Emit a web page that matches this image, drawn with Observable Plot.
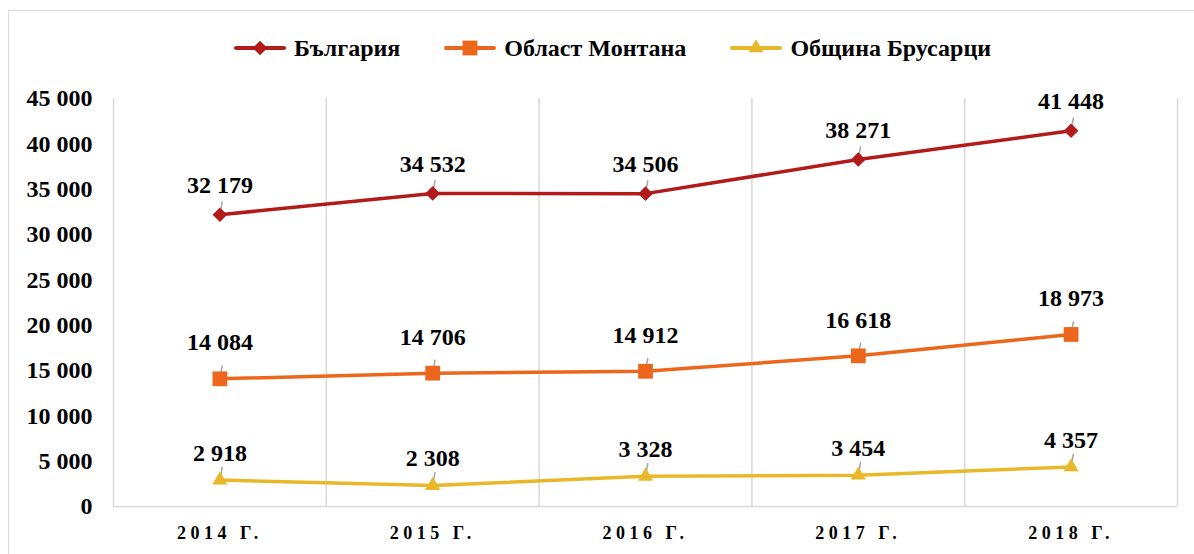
<!DOCTYPE html>
<html>
<head>
<meta charset="utf-8">
<script src="https://cdn.jsdelivr.net/npm/d3@7"></script>
<script src="https://cdn.jsdelivr.net/npm/@observablehq/plot@0.6"></script>
<style>
  html, body { margin: 0; padding: 0; background: #fff; overflow: hidden; }
  #wrap { position: relative; width: 1194px; height: 554px; overflow: hidden; font-family: "Liberation Serif", "Times New Roman", "DejaVu Serif", serif; }
  #frame { position: absolute; left: 8px; top: 10px; width: 1200px; height: 600px; border: 1.5px solid #D9D9D9; box-sizing: border-box; pointer-events: none; }
  #legend { position: absolute; left: 0; top: 0; width: 1194px; height: 96px; display: flex; justify-content: center; align-items: center; gap: 44px; padding-left: 31px; box-sizing: border-box; }
  .item { display: flex; align-items: center; font-weight: bold; font-size: 24px; color: #000; font-family: "Liberation Serif", "Times New Roman", serif; }
  .item svg { margin-right: 8px; }
  #chart { position: absolute; left: 0; top: 78px; }
  #chart svg text { font-family: "Liberation Serif", "Times New Roman", serif !important; font-weight: bold; }
  #chart svg .xax text { letter-spacing: 4.5px; }
</style>
</head>
<body>
<div id="wrap">
  <div id="frame"></div>
  <div id="legend"></div>
  <div id="chart"></div>
</div>
<script>
const years = [2014, 2015, 2016, 2017, 2018];
const seriesNames = ["България", "Област Монтана", "Община Брусарци"];
const bulgaria = [32179, 34532, 34506, 38271, 41448];
const montana = [14084, 14706, 14912, 16618, 18973];
const brusarci = [2918, 2308, 3328, 3454, 4357];
const yTicks = [0, 5000, 10000, 15000, 20000, 25000, 30000, 35000, 40000, 45000];

const colors = ["#B31B1B", "#EC661C", "#E8B828"];
const symbols = ["diamond2", "square2", "triangle2"];
const symbolR = [6.6, 9.4, 7.2];
const labelDy = [-29, -36, -27];

const valuesBySeries = [bulgaria, montana, brusarci];
const data = [];
seriesNames.forEach((s, i) => {
  years.forEach((y, j) => data.push({series: s, idx: i, year: y, value: valuesBySeries[i][j]}));
});

const boundaries = years.map(y => y - 0.5).concat([years[years.length - 1] + 0.5]);
const fmt = v => d3.format(",")(v).replace(/,/g, " ");

const leader = {
  draw(context, l) { context.moveTo(0, 0); context.lineTo(0, -l); }
};

const marks = [
  Plot.ruleX(boundaries, {y1: 0, y2: 45000, stroke: "#D9D9D9", strokeWidth: 1.5}),
  Plot.ruleY([0], {stroke: "#D9D9D9", strokeWidth: 1.5}),
];
seriesNames.forEach((s, i) => {
  const d = data.filter(r => r.idx === i);
  marks.push(Plot.line(d, {x: "year", y: "value", stroke: colors[i], strokeWidth: 3.5}));
  marks.push(Plot.vector(d, {x: "year", y: "value", length: 13, rotate: 10, anchor: "start", shape: leader, stroke: "#A6A6A6", strokeWidth: 1.5}));
  marks.push(Plot.dot(d, {x: "year", y: "value", symbol: symbols[i], r: symbolR[i], fill: colors[i], stroke: "none"}));
  marks.push(Plot.text(d, {x: "year", y: "value", text: r => fmt(r.value), dy: labelDy[i], fontSize: 24, fontWeight: "bold", fill: "#000"}));
});

const chart = Plot.plot({
  width: 1194,
  height: 476,
  marginTop: 20,
  marginBottom: 48,
  marginLeft: 113,
  marginRight: 17,
  style: {background: "transparent", overflow: "visible"},
  x: {type: "linear", domain: [years[0] - 0.5, years[years.length - 1] + 0.5]},
  y: {domain: [0, 45000]},
  marks: [
    ...marks,
    Plot.axisY({ticks: yTicks, tickFormat: fmt, tickSize: 0, tickPadding: 21, fontSize: 24, fontWeight: "bold", label: null, fill: "#000"}),
    Plot.axisX({ticks: years, tickFormat: y => `${y} Г.`, tickSize: 0, tickPadding: 20, fontSize: 18, fontWeight: "bold", label: null, fill: "#000", className: "xax"})
  ]
});
document.getElementById("chart").appendChild(chart);

// legend
const legend = document.getElementById("legend");
seriesNames.forEach((s, i) => {
  const item = document.createElement("div");
  item.className = "item";
  const sym = d3.symbol().type({diamond2: d3.symbolDiamond2, square2: d3.symbolSquare2, triangle2: d3.symbolTriangle2}[symbols[i]]).size(Math.PI * symbolR[i] * symbolR[i])();
  item.innerHTML = `<svg width="52" height="22" viewBox="0 0 52 22"><line x1="2" x2="50" y1="11" y2="11" stroke="${colors[i]}" stroke-width="4" stroke-linecap="round"/><path d="${sym}" transform="translate(26,11)" fill="${colors[i]}"/></svg><span>${s}</span>`;
  legend.appendChild(item);
});
</script>
</body>
</html>
